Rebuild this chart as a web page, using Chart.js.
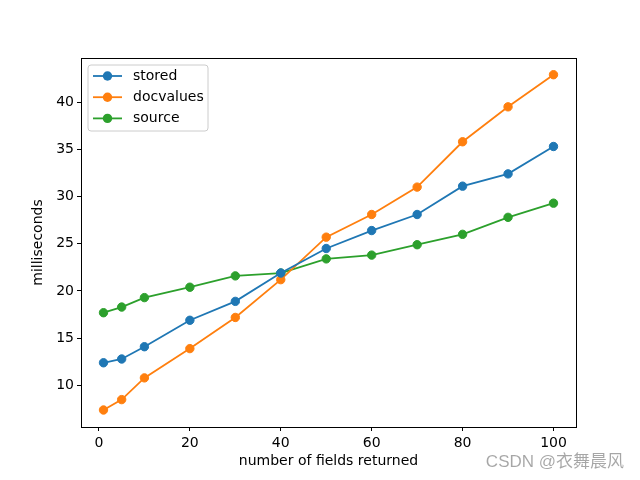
<!DOCTYPE html>
<html>
<head>
<meta charset="utf-8">
<script src="https://cdn.jsdelivr.net/npm/chart.js@4"></script>
<style>
  html, body { margin: 0; padding: 0; background: #fff; }
  #wrap { width: 640px; height: 480px; }
</style>
</head>
<body>
<div id="wrap"><canvas id="chart" width="640" height="480"></canvas></div>
<script>
// data
const fields = [1, 5, 10, 20, 30, 40, 50, 60, 70, 80, 90, 100];
const stored = [12.4, 12.8, 14.1, 16.9, 18.9, 21.9, 24.5, 26.4, 28.1, 31.1, 32.4, 35.3];
const docvalues = [7.4, 8.5, 10.8, 13.9, 17.2, 21.2, 25.7, 28.1, 31.0, 35.8, 39.5, 42.9];
const source = [17.7, 18.3, 19.3, 20.4, 21.6, 21.9, 23.4, 23.8, 24.9, 26.0, 27.8, 29.3];
const xTicks = [0, 20, 40, 60, 80, 100];
const yTicks = [10, 15, 20, 25, 30, 35, 40];

const font = { family: 'DejaVu Sans', size: 14 };

const toPoints = arr => arr.map((v, i) => ({ x: fields[i], y: v }));

function series(label, data, color) {
    return {
        label: label,
        data: toPoints(data),
        borderColor: color,
        backgroundColor: color,
        borderWidth: 1.8,
        pointRadius: 4.2,
        pointBorderWidth: 1,
        pointHoverRadius: 4.2,
        tension: 0
    };
}

// frame around plot, matplotlib style legend, watermark
const extras = {
    id: 'extras',
    afterDraw(chart) {
        const ctx = chart.ctx;
        const a = chart.chartArea;
        ctx.save();
        ctx.strokeStyle = '#000';
        ctx.lineWidth = 1;
        ctx.strokeRect(Math.round(a.left) + 0.5, Math.round(a.top) + 0.5,
            Math.round(a.right - a.left), Math.round(a.bottom - a.top));

        // legend
        const bx = a.left + 7, by = a.top + 7, bw = 120, bh = 66;
        ctx.beginPath();
        ctx.roundRect(bx, by, bw, bh, 3);
        ctx.fillStyle = 'rgba(255,255,255,0.8)';
        ctx.fill();
        ctx.strokeStyle = '#cccccc';
        ctx.stroke();
        chart.data.datasets.forEach((ds, i) => {
            const y = by + 11 + i * 21.2;
            ctx.strokeStyle = ds.borderColor;
            ctx.lineWidth = 1.8;
            ctx.beginPath();
            ctx.moveTo(bx + 5, y);
            ctx.lineTo(bx + 34, y);
            ctx.stroke();
            ctx.beginPath();
            ctx.arc(bx + 19.5, y, 4.7, 0, Math.PI * 2);
            ctx.fillStyle = ds.borderColor;
            ctx.fill();
            ctx.fillStyle = '#000';
            ctx.font = '14px "DejaVu Sans"';
            ctx.textBaseline = 'middle';
            ctx.fillText(ds.label, bx + 45, y);
        });

        ctx.fillStyle = 'rgba(0,0,0,0.35)';
        ctx.font = '17px "Liberation Sans", "Noto Sans CJK SC"';
        ctx.textAlign = 'right';
        ctx.textBaseline = 'middle';
        ctx.fillText('CSDN @衣舞晨风', 624, 462);
        ctx.restore();
    }
};

new Chart(document.getElementById('chart'), {
    type: 'line',
    data: {
        datasets: [
            series('stored', stored, '#1f77b4'),
            series('docvalues', docvalues, '#ff7f0e'),
            series('source', source, '#2ca02c')
        ]
    },
    options: {
        responsive: false,
        animation: false,
        layout: { padding: { top: 58, right: 64, left: 0, bottom: 0 } },
        plugins: {
            legend: { display: false },
            tooltip: { enabled: false }
        },
        scales: {
            x: {
                type: 'linear',
                min: -3.95,
                max: 104.95,
                afterFit: s => { s.height = 53; },
                afterBuildTicks: s => { s.ticks = xTicks.map(v => ({ value: v })); },
                grid: { drawOnChartArea: false, color: '#000', tickLength: 4 },
                border: { color: '#000' },
                ticks: { color: '#000', font: font, padding: 4, maxRotation: 0 },
                title: {
                    display: true,
                    text: 'number of fields returned',
                    color: '#000',
                    font: font,
                    padding: { bottom: 10 }
                }
            },
            y: {
                type: 'linear',
                min: 5.6,
                max: 44.67,
                afterFit: s => { s.width = 81; },
                afterBuildTicks: s => { s.ticks = yTicks.map(v => ({ value: v })); },
                grid: { drawOnChartArea: false, color: '#000', tickLength: 4 },
                border: { color: '#000' },
                ticks: { color: '#000', font: font, padding: 3 },
                title: {
                    display: true,
                    text: 'milliseconds',
                    color: '#000',
                    font: font,
                    padding: { top: 30 }
                }
            }
        }
    },
    plugins: [extras]
});
</script>
</body>
</html>
